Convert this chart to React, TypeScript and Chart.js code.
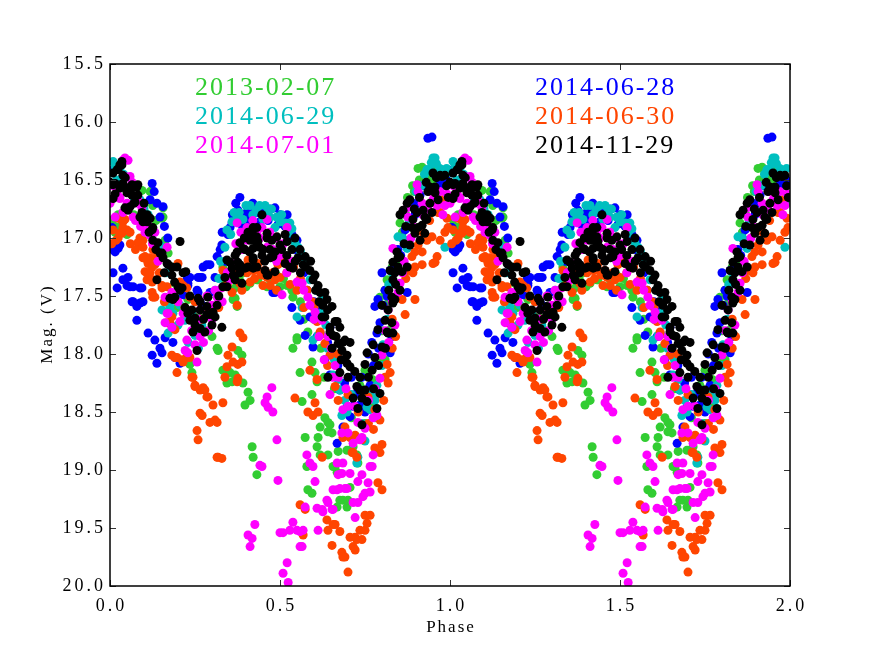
import React, { useEffect, useRef } from 'react';
import { Chart, registerables } from 'chart.js';
Chart.register(...registerables);

type P = [number, number];

const xTicks = [0, 0.5, 1, 1.5, 2];
const yTicks = [15.5, 16, 16.5, 17, 17.5, 18, 18.5, 19, 19.5, 20];

// [phase, mag] for one cycle (plotted at phase and phase + 1)
const black: P[] = [
  [0.009,16.44],[0.024,16.41],[0.035,16.37],[0.038,16.46],[0.015,16.53],[0.029,16.57],[0.059,16.56],[0.079,16.56],
  [0.05,16.61],[0.065,16.63],[0.074,16.69],[0.053,16.76],[0.009,16.66],[0.088,16.82],[0.109,16.8],[0.097,16.86],
  [0.118,16.83],[0.126,16.91],[0.141,17.04],[0.126,17.02],[0.147,17.13],[0.156,17.17],[0.168,17.22],[0.182,17.25],
  [0.182,17.32],[0.197,17.25],[0.215,17.3],[0.206,17.03],[0.138,17.36],[0.176,17.52],[0.185,17.53],[0.206,17.45],
  [0.212,17.43],[0.221,17.6],[0.229,17.65],[0.235,17.71],[0.25,17.69],[0.244,17.81],[0.265,17.78],[0.259,17.52],
  [0.265,17.55],[0.288,17.51],[0.285,17.66],[0.303,17.64],[0.309,17.68],[0.256,17.97],[0.279,17.81],[0.294,17.66],
  [0.285,17.59],[0.329,17.77],[0.315,17.58],[0.265,17.62],[0.332,17.42],[0.338,17.34],[0.359,17.26],[0.374,17.12],
  [0.382,17.23],[0.391,17.09],[0.406,16.95],[0.412,17.02],[0.421,16.91],[0.432,16.99],[0.447,16.8],[0.432,17.04],
  [0.45,17.1],[0.462,17.0],[0.476,17.02],[0.479,17.16],[0.471,17.17],[0.462,17.32],[0.485,17.29],[0.382,17.3],
  [0.406,17.25],[0.421,17.17],[0.432,17.25],[0.344,17.42],[0.368,17.36],[0.382,17.26],[0.376,17.21],[0.353,17.21],
  [0.368,17.15],[0.397,17.1],[0.382,17.04],[0.421,17.09],[0.435,17.03],[0.421,16.99],[0.418,16.95],[0.432,16.91],
  [0.462,16.96],[0.491,16.99],[0.5,17.06],[0.521,17.03],[0.535,17.1],[0.559,17.1],[0.574,17.16],[0.553,17.17],
  [0.515,17.22],[0.529,17.25],[0.538,17.26],[0.568,17.23],[0.588,17.28],[0.603,17.32],[0.597,17.36],[0.612,17.41],
  [0.618,17.47],[0.632,17.47],[0.638,17.53],[0.653,17.59],[0.465,17.32],[0.456,17.28],[0.447,17.15],[0.421,17.19],
  [0.421,17.26],[0.397,17.26],[0.388,17.39],[0.362,17.32],[0.344,17.19],[0.624,17.68],[0.662,17.72],[0.676,17.77],
  [0.647,17.81],[0.691,17.88],[0.829,17.73],[0.815,17.81],[0.832,17.82],[0.838,17.53],[0.824,17.28],[0.832,17.21],
  [0.847,17.17],[0.838,17.3],[0.832,17.36],[0.818,17.62],[0.626,17.58],[0.632,17.68],[0.647,17.77],[0.668,17.72],
  [0.656,17.84],[0.653,17.95],[0.671,17.91],[0.685,17.9],[0.706,17.9],[0.682,17.97],[0.697,18.01],[0.706,18.11],
  [0.697,18.08],[0.676,18.16],[0.641,18.2],[0.8,17.58],[0.832,17.56],[0.788,17.79],[0.809,17.71],[0.818,17.82],
  [0.774,17.92],[0.8,17.94],[0.756,17.99],[0.779,18.03],[0.75,18.09],[0.771,18.14],[0.726,18.28],[0.735,18.31],
  [0.75,18.31],[0.715,18.38],[0.741,18.38],[0.756,18.41],[0.729,18.47],[0.785,18.47],[0.794,18.34],[0.741,18.61],
  [0.853,16.8],[0.874,16.7],[0.882,16.67],[0.862,16.76],[0.891,16.84],[0.903,16.78],[0.906,16.91],[0.888,16.91],
  [0.921,16.76],[0.926,16.82],[0.941,16.7],[0.935,16.6],[0.956,16.56],[0.971,16.46],[0.985,16.46],[0.021,16.41],
  [0.029,16.37],[0.035,16.34],[0.0,16.52],[0.038,16.56],[0.053,16.6],[0.074,16.56],[0.059,16.73],[0.965,16.67],
  [0.947,16.78],[0.932,16.84],[0.926,16.96],[0.844,17.12],[0.853,17.16],[0.847,17.25],[0.859,17.29],[0.874,17.25],
  [0.829,17.51],[0.882,17.06],[0.897,16.96],[0.912,17.02],[0.853,17.45],[0.95,16.44],[0.976,16.47],[0.941,16.56],
  [0.956,16.61],[0.918,16.89],[0.009,16.54],[0.038,16.53],[0.065,16.54],[0.082,16.54],[0.044,16.74],[0.094,16.78],
  [0.103,16.82],[0.109,16.86],[0.124,16.93],[0.153,17.13],[0.171,17.23],[0.223,17.29],[0.2,17.42],[0.191,17.51],
  [0.241,17.62],[0.25,17.75],[0.065,16.63],[0.082,16.63],[0.515,16.97],[0.544,17.0],
  [0.395,17.0],[0.41,17.12],[0.44,17.08],[0.455,17.2],[0.47,17.1],[0.485,17.12],[0.505,17.1],[0.52,17.15],
  [0.545,17.2],[0.56,17.3],[0.575,17.25],[0.59,17.2],[0.605,17.45],[0.615,17.55],[0.64,17.62],[0.665,17.85],
  [0.68,18.05],[0.7,18.2],[0.72,18.15],[0.735,18.2],[0.76,18.2],[0.775,18.3],[0.79,18.1],[0.81,17.95],
  [0.82,17.45],[0.84,17.4],[0.865,17.05],[0.87,16.9],[0.895,16.75],[0.91,16.65],[0.93,16.52],[0.96,16.48],
  [0.99,16.55],[0.995,16.65],[0.015,16.62],[0.045,16.48],[0.07,16.7],[0.1,16.7],[0.115,16.95],[0.135,17.1],
  [0.16,17.3],[0.19,17.38],[0.235,17.5],[0.275,17.7],[0.3,17.75],[0.32,17.5],
];

const magenta: P[] = [
  [0.038,16.33],[0.059,16.47],[0.065,16.52],[0.021,16.6],[0.029,16.66],[0.05,16.7],[0.082,16.67],[0.094,16.74],
  [0.038,16.78],[0.068,16.82],[0.112,16.89],[0.132,16.95],[0.153,17.15],[0.168,17.08],[0.162,17.51],[0.182,17.47],
  [0.168,17.65],[0.265,17.62],[0.309,17.45],[0.315,17.51],[0.329,17.43],[0.353,17.36],[0.362,17.34],[0.359,17.22],
  [0.374,16.87],[0.403,16.91],[0.418,16.97],[0.432,16.95],[0.447,16.91],[0.462,16.84],[0.403,17.02],[0.462,17.08],
  [0.479,17.1],[0.391,17.1],[0.55,17.38],[0.565,17.39],[0.582,17.51],[0.588,17.58],[0.506,17.49],[0.521,16.91],
  [0.603,17.64],[0.624,17.71],[0.682,18.68],[0.7,18.68],[0.715,18.77],[0.735,18.74],[0.774,18.55],[0.785,18.53],
  [0.647,18.35],[0.685,18.48],[0.729,18.59],[0.741,18.72],[0.75,18.64],[0.794,18.21],[0.8,18.01],[0.832,17.09],
  [0.853,17.39],[0.847,17.47],[0.818,17.62],[0.903,16.54],[0.906,16.6],[0.874,16.74],[0.876,16.82],[0.029,16.65],
  [0.044,16.31],[0.044,16.47],[0.053,16.33],[0.95,16.67],[0.015,16.82],[0.082,16.7],[0.171,17.65],[0.221,17.97],
  [0.162,17.73],[0.206,17.72],[0.226,17.88],[0.25,17.92],[0.265,17.85],[0.256,18.07],[0.229,17.99],[0.182,17.77],
  [0.918,16.7],[0.935,16.75],[0.962,16.72],[0.979,16.8],[0.991,16.62],[0.65,17.95],[0.662,18.1],[0.641,17.85],
  [0.671,18.2],[0.694,18.3],[0.76,18.4],[0.82,17.9],[0.838,17.75],[0.865,17.2],[0.885,17.0],[0.5,17.15],
  [0.52,17.3],[0.49,17.0],[0.285,17.5],[0.3,17.58],[0.118,16.98],[0.141,17.2],[0.103,16.95],[0.0,16.7],
  [0.2,17.55],[0.215,17.65],[0.24,17.8],[0.26,17.7],[0.275,17.9],[0.29,17.8],[0.3,17.7],[0.33,17.55],
  [0.345,17.3],[0.37,17.05],[0.385,16.95],[0.42,16.85],[0.44,17.0],[0.47,16.95],[0.49,17.2],[0.51,17.05],
  [0.535,17.2],[0.57,17.45],[0.6,17.7],[0.615,17.85],[0.63,18.05],[0.655,18.2],[0.7,18.45],[0.72,18.45],
  [0.78,18.3],[0.81,17.8],[0.83,17.55],[0.86,17.3],[0.89,16.9],[0.92,16.8],[0.94,16.6],[0.97,16.6],
  [0.985,16.72],[0.01,16.55],[0.055,16.6],[0.075,16.85],[0.09,16.9],[0.125,17.05],
  [0.476,18.29],[0.462,18.37],[0.456,18.42],[0.465,18.46],[0.479,18.5],[0.491,18.74],[0.447,18.97],[0.441,18.96],
  [0.494,19.09],[0.579,18.87],[0.588,18.94],[0.597,18.97],[0.603,19.1],[0.668,19.17],[0.676,19.16],[0.697,19.16],
  [0.685,18.94],[0.671,19.04],[0.706,19.03],[0.426,19.47],[0.406,19.56],[0.418,19.59],[0.412,19.66],[0.5,19.54],
  [0.509,19.54],[0.529,19.52],[0.538,19.45],[0.55,19.52],[0.559,19.53],[0.568,19.52],[0.559,19.66],[0.612,19.52],
  [0.609,19.33],[0.626,19.36],[0.641,19.28],[0.653,19.34],[0.721,19.41],[0.715,19.28],[0.521,19.8],[0.509,19.89],
  [0.524,19.97],[0.574,19.32],[0.668,18.94],[0.682,19.03],[0.741,19.04],[0.765,18.97],[0.729,19.1],[0.759,19.11],
  [0.656,19.17],[0.691,19.16],[0.75,19.2],[0.744,19.23],[0.765,19.19],[0.638,19.26],[0.624,19.34],[0.656,19.34],
  [0.729,19.28],[0.565,19.66],[0.774,18.87],[0.771,18.97],
];

const orange: P[] = [
  [0.009,16.93],[0.018,17.02],[0.044,16.84],[0.035,16.96],[0.05,16.93],[0.024,17.0],[0.088,17.0],[0.088,17.04],
  [0.097,17.02],[0.126,17.1],[0.118,17.17],[0.138,17.16],[0.132,17.23],[0.103,17.29],[0.109,17.36],[0.124,17.47],
  [0.126,17.51],[0.153,17.43],[0.168,17.42],[0.2,17.22],[0.206,17.38],[0.215,17.41],[0.226,17.43],[0.235,17.51],
  [0.029,16.96],[0.082,17.04],[0.097,17.17],[0.112,17.22],[0.109,17.3],[0.124,17.38],[0.168,17.73],[0.182,17.68],
  [0.182,18.01],[0.197,18.03],[0.212,18.05],[0.226,18.03],[0.197,18.16],[0.241,18.2],[0.25,18.27],[0.265,18.31],
  [0.285,18.37],[0.303,18.44],[0.265,18.51],[0.294,18.59],[0.315,18.89],[0.288,17.65],[0.191,17.79],[0.176,17.52],
  [0.374,17.58],[0.359,17.47],[0.382,17.39],[0.403,17.3],[0.421,17.28],[0.447,17.32],[0.462,17.34],[0.471,17.41],
  [0.485,17.36],[0.412,17.38],[0.45,17.41],[0.406,17.19],[0.441,17.29],[0.479,17.3],[0.494,17.23],[0.5,17.34],
  [0.388,17.45],[0.332,17.28],[0.609,17.72],[0.618,17.84],[0.52,17.3],[0.54,17.25],[0.56,17.35],[0.58,17.45],
  [0.595,17.55],[0.51,17.2],
  [0.3,17.6],[0.32,17.6],[0.345,17.4],[0.365,17.3],[0.395,17.25],[0.425,17.35],[0.435,17.22],[0.455,17.28],
  [0.49,17.45],[0.53,17.4],[0.55,17.45],[0.57,17.6],[0.6,17.6],[0.64,18.1],[0.67,18.0],[0.7,18.35],
  [0.73,18.5],[0.76,18.6],[0.775,18.65],[0.805,18.4],[0.83,17.7],[0.85,17.4],[0.87,17.35],[0.92,16.95],
  [0.94,16.85],[0.985,16.95],[0.005,17.05],[0.06,17.05],[0.075,17.1],[0.145,17.3],[0.16,17.55],[0.22,17.6],
  [0.25,17.55],[0.27,17.7],
  [0.382,17.82],[0.391,17.86],[0.359,17.94],[0.347,18.01],[0.362,18.07],[0.376,18.09],[0.388,18.07],[0.344,18.11],
  [0.338,18.2],[0.376,18.21],[0.374,18.24],[0.244,18.2],[0.25,18.28],[0.274,18.29],[0.279,18.31],[0.288,18.37],
  [0.332,18.42],[0.271,18.53],[0.309,18.57],[0.315,18.59],[0.256,18.66],[0.259,18.74],[0.318,18.89],[0.329,18.9],
  [0.544,18.38],[0.582,18.5],[0.597,18.53],[0.603,18.42],[0.612,18.5],[0.588,18.14],[0.609,18.22],[0.624,18.89],
  [0.559,19.3],[0.574,19.34],[0.638,19.43],[0.641,19.52],[0.662,19.47],[0.676,19.53],[0.653,19.65],[0.682,19.71],
  [0.691,19.75],[0.715,19.66],[0.721,19.58],[0.706,19.58],[0.7,19.88],[0.568,19.56],[0.712,18.85],[0.726,18.89],
  [0.759,18.37],[0.779,18.48],[0.794,18.57],[0.8,18.78],[0.779,18.81],[0.794,18.85],[0.685,18.72],[0.691,18.63],
  [0.706,18.72],[0.721,18.7],[0.741,18.74],[0.715,18.85],[0.788,19.11],[0.8,19.17],[0.656,19.47],[0.685,19.75],
  [0.721,19.69],[0.726,19.6],[0.735,19.52],[0.75,19.52],[0.756,19.46],[0.75,19.39],[0.765,19.39],[0.741,19.6],
  [0.818,18.25],[0.815,18.09],[0.824,18.16],[0.809,18.2],[0.618,17.81],[0.632,17.91],[0.647,18.01],[0.662,18.28],
  [0.671,18.4],[0.83,17.95],[0.84,17.85],
  [0.956,16.65],[0.971,16.78],[0.991,16.83],[0.029,16.83],[0.038,16.86],[0.059,16.95],[0.947,16.99],[0.932,17.02],
  [0.906,17.06],[0.918,17.12],[0.897,17.12],[0.888,17.16],[0.897,17.25],[0.876,17.28],[0.891,17.3],[0.956,17.21],
  [0.962,17.16],[0.859,17.53],[0.897,17.53],[0.868,17.66],[0.979,16.67],[0.994,16.91],[0.965,16.78],[0.971,17.02],
  [0.95,17.22],[0.918,17.23],[0.024,16.83],[0.038,16.91],[0.097,17.08],[0.103,17.16],[0.109,17.19],[0.124,17.25],
  [0.118,17.3],[0.126,17.36],[0.153,17.41],[0.132,17.51],[0.176,17.73],[0.191,18.03],[0.215,18.07],[0.235,18.03],
];

const cyan: P[] = [
  [0.412,16.72],[0.456,16.72],[0.465,16.78],[0.45,16.84],[0.5,16.86],[0.515,16.87],[0.529,16.87],[0.344,16.93],
  [0.359,16.86],[0.374,16.82],[0.391,16.84],[0.485,16.91],[0.524,16.96],[0.544,17.04],[0.553,17.08],[0.338,17.08],
  [0.55,17.68],[0.565,17.6],[0.597,17.59],[0.626,17.51],[0.574,17.21],[0.588,17.36],[0.606,17.45],[0.009,16.34],
  [0.006,16.44],[0.029,16.4],[0.059,16.59],[0.088,16.67],[0.112,16.8],[0.147,17.06],[0.156,17.42],[0.191,17.51],
  [0.221,17.71],[0.25,17.84],[0.206,17.58],[0.597,17.88],[0.612,17.84],[0.656,18.18],[0.671,18.22],[0.676,18.31],
  [0.682,18.53],[0.697,18.5],[0.729,18.89],[0.726,18.94],[0.756,18.46],[0.765,18.48],[0.785,18.27],[0.803,17.92],
  [0.779,18.4],[0.847,16.99],[0.874,17.09],[0.956,16.31],[0.941,16.41],[0.95,16.31],[0.932,16.41],[0.985,17.08],
  [0.171,17.82],[0.153,17.62],[0.176,17.59],[0.38,16.78],[0.43,16.76],[0.47,16.82],[0.96,16.36],[0.97,16.4],
  [0.015,16.38],[0.9,16.6],[0.82,17.4],[0.71,18.35],[0.64,17.95],[0.27,17.75],[0.3,17.6],[0.32,17.35],[0.23,17.9],
  [0.355,16.97],[0.365,16.78],[0.4,16.72],[0.42,16.8],[0.44,16.72],[0.475,16.75],[0.49,16.82],[0.505,16.8],
  [0.52,16.9],[0.535,16.92],[0.56,17.12],[0.58,17.2],[0.62,17.65],[0.635,17.75],[0.66,18.05],[0.69,18.4],
  [0.74,18.6],[0.75,18.75],[0.77,18.35],[0.8,18.1],[0.815,17.7],[0.83,17.3],[0.86,17.0],[0.88,16.85],
  [0.915,16.55],[0.925,16.45],[0.945,16.35],[0.975,16.45],[0.99,16.4],[0.02,16.5],[0.04,16.45],[0.07,16.65],
  [0.1,16.75],[0.13,16.95],[0.165,17.3],[0.185,17.65],[0.2,17.75],[0.24,17.65],[0.26,17.95],[0.285,17.65],
  [0.31,17.45],[0.325,17.2],
];

const blue: P[] = [
  [0.015,17.12],[0.029,17.06],[0.009,17.3],[0.038,17.26],[0.053,17.34],[0.021,17.43],[0.038,17.36],[0.059,17.42],
  [0.065,17.55],[0.079,17.59],[0.097,17.55],[0.088,17.43],[0.079,17.71],[0.112,17.82],[0.132,17.88],[0.147,17.95],
  [0.124,18.01],[0.138,18.08],[0.153,17.99],[0.162,17.86],[0.185,17.9],[0.191,18.03],[0.206,18.08],[0.226,17.36],
  [0.229,17.41],[0.265,17.34],[0.259,17.47],[0.274,17.25],[0.294,17.23],[0.265,17.55],[0.279,17.59],[0.315,17.16],
  [0.309,17.34],[0.294,17.47],[0.006,16.91],[0.009,17.1],[0.024,17.09],[0.05,17.41],[0.068,17.42],[0.094,17.43],
  [0.068,17.55],[0.088,17.56],
  [0.124,16.53],[0.118,16.67],[0.138,16.7],[0.156,16.73],[0.147,16.82],[0.229,17.39],[0.259,17.34],[0.256,17.45],
  [0.215,17.49],[0.382,16.65],[0.376,16.76],[0.403,16.78],[0.432,16.78],[0.441,16.86],[0.509,16.86],[0.535,16.97],
  [0.353,16.91],[0.535,17.6],[0.588,17.68],[0.647,17.77],[0.491,17.45],[0.479,17.47],[0.456,16.76],[0.485,16.74],
  [0.521,16.8],[0.55,17.02],[0.559,17.15],[0.329,17.06],[0.347,16.97],[0.597,17.94],[0.609,17.85],[0.618,17.82],
  [0.685,18.63],[0.668,18.77],[0.706,18.54],[0.697,18.46],[0.785,17.82],[0.794,17.73],[0.829,17.85],[0.824,17.99],
  [0.803,17.58],[0.721,18.35],[0.735,18.44],[0.676,18.31],[0.647,18.18],[0.632,18.05],[0.574,17.84],[0.559,17.71],
  [0.765,18.27],[0.779,17.59],[0.788,17.53],[0.832,17.39],[0.874,17.47],[0.935,16.14],[0.947,16.13],[0.912,16.63],
  [0.897,16.8],[0.868,16.93],[0.847,17.1],[0.824,17.28],[0.809,17.45],[0.971,16.54],[0.985,16.67],[0.009,16.41],
  [0.359,16.87],[0.324,17.1],[0.285,17.23],[0.271,17.34],[0.235,17.34],[0.485,17.47],[0.57,17.3],[0.58,17.45],
  [0.6,17.55],[0.62,17.65],[0.66,18.0],[0.74,18.2],[0.75,18.5],[0.71,18.2],[0.76,18.0],[0.77,17.9],[0.8,17.3],
  [0.86,17.0],[0.89,16.7],[0.42,16.7],[0.47,16.75],[0.5,16.8],[0.39,16.9],
  [0.36,16.8],[0.37,16.7],[0.395,16.8],[0.41,16.85],[0.425,16.75],[0.45,16.8],[0.465,16.85],[0.495,16.88],
  [0.515,16.9],[0.525,17.0],[0.545,17.1],[0.61,17.6],[0.64,17.9],[0.67,18.1],[0.69,18.25],[0.715,18.45],
  [0.73,18.3],[0.755,18.35],[0.775,18.1],[0.79,17.95],[0.815,17.5],[0.84,17.25],[0.855,17.15],[0.88,16.9],
  [0.905,16.7],[0.92,16.55],[0.955,16.45],[0.99,16.5],[0.13,16.6],[0.16,16.9],[0.17,17.0],[0.33,16.95],[0.34,17.2],
];

const green: P[] = [
  [0.318,17.97],[0.332,18.14],[0.344,18.25],[0.353,18.16],[0.368,18.18],[0.376,17.97],[0.388,18.01],[0.359,18.24],
  [0.391,18.25],[0.406,18.33],[0.412,18.4],[0.397,18.44],[0.418,18.8],[0.421,18.89],[0.432,19.04],[0.55,17.88],
  [0.538,17.95],[0.559,18.16],[0.609,18.24],[0.565,18.41],[0.594,18.35],[0.632,18.55],[0.618,18.63],[0.641,18.67],
  [0.647,18.61],[0.574,18.72],[0.609,18.8],[0.618,18.87],[0.641,18.87],[0.662,18.97],[0.579,18.97],[0.582,19.17],
  [0.594,19.2],[0.676,19.26],[0.668,19.32],[0.697,19.32],[0.594,18.07],[0.603,18.16],[0.671,18.84],[0.697,18.83],
  [0.641,18.59],[0.653,18.68],[0.612,18.72],[0.656,18.97],[0.668,19.02],[0.685,19.26],[0.7,19.26],[0.706,19.15],
  [0.715,18.8],[0.726,18.87],[0.729,18.94],[0.765,18.42],[0.785,18.35],
  [0.362,17.28],[0.432,17.36],[0.5,17.42],[0.521,17.41],[0.535,17.45],[0.538,17.51],[0.55,17.86],[0.368,17.52],
  [0.118,16.6],[0.126,16.72],[0.153,16.83],[0.156,16.74],[0.162,17.02],[0.191,17.39],[0.197,17.6],[0.229,17.53],
  [0.235,17.65],[0.368,17.43],[0.362,17.53],[0.374,17.59],[0.412,17.39],[0.435,17.36],[0.462,17.42],[0.391,17.3],
  [0.332,17.25],[0.009,16.84],[0.906,16.4],[0.926,16.44],[0.853,16.87],[0.815,17.36],[0.809,17.45],[0.794,17.51],
  [0.918,16.39],[0.094,16.59],[0.156,16.82],[0.809,18.05],[0.824,17.79],[0.009,16.89],[0.024,16.8],[0.171,17.13],
  [0.235,18.09],[0.241,18.16],[0.315,17.95],[0.582,17.81],[0.735,18.27],[0.75,18.14],[0.771,18.22],[0.794,18.05],
  [0.94,16.45],[0.955,16.5],[0.965,16.42],[0.89,16.55],[0.875,16.65],[0.86,16.95],[0.84,17.1],[0.83,17.25],
  [0.98,16.55],[0.015,16.95],[0.05,16.97],
  [0.26,17.65],[0.28,17.8],[0.3,17.85],[0.34,17.38],[0.38,17.35],[0.4,17.42],[0.45,17.3],[0.47,17.35],
  [0.49,17.32],[0.51,17.35],[0.56,17.55],[0.57,17.7],[0.6,17.7],[0.62,17.95],[0.63,18.2],[0.66,18.3],
  [0.69,18.5],[0.71,18.55],[0.75,18.6],[0.78,18.55],[0.8,17.8],[0.82,17.55],[0.85,17.2],[0.87,16.8],
  [0.895,16.6],[0.91,16.5],[0.935,16.48],[0.95,16.42],[0.99,16.7],[0.03,16.9],[0.07,16.8],[0.1,16.72],
  [0.135,16.85],[0.14,17.1],[0.18,17.25],[0.21,17.45],[0.22,17.7],
];

const seriesNames = ['2014-11-29', '2014-07-01', '2014-06-30', '2014-06-29', '2014-06-28', '2013-02-07'];
const seriesColors = ['#000000', '#ff00ff', '#ff4500', '#00bfbf', '#0000ff', '#32cd32'];
const seriesData = [black, magenta, orange, cyan, blue, green];

// legend layout: left column then right column
const legendLeft = ['2013-02-07', '2014-06-29', '2014-07-01'];
const legendLeftColors = ['#32cd32', '#00bfbf', '#ff00ff'];
const legendRight = ['2014-06-28', '2014-06-30', '2014-11-29'];
const legendRightColors = ['#0000ff', '#ff4500', '#000000'];

const FONT = '"Liberation Serif", "DejaVu Serif", serif';

const axesPlugin = {
  id: 'axesFrame',
  afterDraw(chart: any) {
    const { ctx, chartArea: a, scales } = chart;
    const xs = scales.x;
    const ys = scales.y;
    ctx.save();
    ctx.strokeStyle = '#333';
    ctx.lineWidth = 1;
    const L = 6;
    ctx.beginPath();
    xTicks.forEach((v) => {
      const px = Math.round(xs.getPixelForValue(v)) + 0.5;
      ctx.moveTo(px, a.bottom); ctx.lineTo(px, a.bottom - L);
      ctx.moveTo(px, a.top); ctx.lineTo(px, a.top + L);
    });
    yTicks.forEach((v) => {
      const py = Math.round(ys.getPixelForValue(v)) + 0.5;
      ctx.moveTo(a.left, py); ctx.lineTo(a.left + L, py);
      ctx.moveTo(a.right, py); ctx.lineTo(a.right - L, py);
    });
    ctx.stroke();
    ctx.strokeStyle = '#000';
    ctx.lineWidth = 1.5;
    ctx.strokeRect(a.left, a.top, a.right - a.left, a.bottom - a.top);

    ctx.fillStyle = '#000';
    ctx.font = `18px ${FONT}`;
    const ls = 3;
    (ctx as any).letterSpacing = `${ls}px`;
    ctx.textBaseline = 'middle';
    ctx.textAlign = 'right';
    yTicks.forEach((v) => {
      ctx.fillText(v.toFixed(1), a.left - 7 + ls, ys.getPixelForValue(v));
    });
    ctx.textAlign = 'center';
    ctx.textBaseline = 'top';
    xTicks.forEach((v) => {
      ctx.fillText(v.toFixed(1), xs.getPixelForValue(v) + ls / 2, a.bottom + 11);
    });

    ctx.font = `17px ${FONT}`;
    (ctx as any).letterSpacing = '2px';
    ctx.textAlign = 'center';
    ctx.textBaseline = 'middle';
    ctx.fillText('Phase', (a.left + a.right) / 2 + 1, a.bottom + 42);
    ctx.save();
    ctx.translate(48, (a.top + a.bottom) / 2);
    ctx.rotate(-Math.PI / 2);
    ctx.fillText('Mag. (V)', 1, 0);
    ctx.restore();

    ctx.font = `26px ${FONT}`;
    (ctx as any).letterSpacing = '2px';
    ctx.textAlign = 'left';
    ctx.textBaseline = 'alphabetic';
    const rows = [95, 124, 153];
    legendLeft.forEach((t, i) => {
      ctx.fillStyle = legendLeftColors[i];
      ctx.fillText(t, 195, rows[i]);
    });
    legendRight.forEach((t, i) => {
      ctx.fillStyle = legendRightColors[i];
      ctx.fillText(t, 535, rows[i]);
    });
    ctx.restore();
  },
};

export default function App() {
  const ref = useRef<HTMLCanvasElement | null>(null);
  useEffect(() => {
    document.body.style.margin = '0';
    if (!ref.current) return;
    const datasets = seriesData.map((pts, i) => ({
      label: seriesNames[i],
      data: [
        ...pts.map(([p, m]) => ({ x: p, y: m })),
        ...pts.map(([p, m]) => ({ x: p + 1, y: m })),
      ],
      backgroundColor: seriesColors[i],
      borderColor: seriesColors[i],
      borderWidth: 0,
      pointRadius: 4.5,
      pointHoverRadius: 4.5,
      showLine: false,
      clip: 0,
    }));
    const chart = new Chart(ref.current, {
      type: 'scatter',
      data: { datasets },
      options: {
        animation: false,
        responsive: false,
        events: [],
        layout: { padding: { left: 110, right: 88, top: 64, bottom: 68 } },
        scales: {
          x: { type: 'linear', min: 0, max: 2, display: false },
          y: { type: 'linear', min: 15.5, max: 20, reverse: true, display: false },
        },
        plugins: { legend: { display: false }, tooltip: { enabled: false } },
      },
      plugins: [axesPlugin],
    } as any);
    return () => chart.destroy();
  }, []);
  return (
    <div style={{ width: 878, height: 654, background: '#fff' }}>
      <canvas ref={ref} width={878} height={654} style={{ display: 'block' }} />
    </div>
  );
}
